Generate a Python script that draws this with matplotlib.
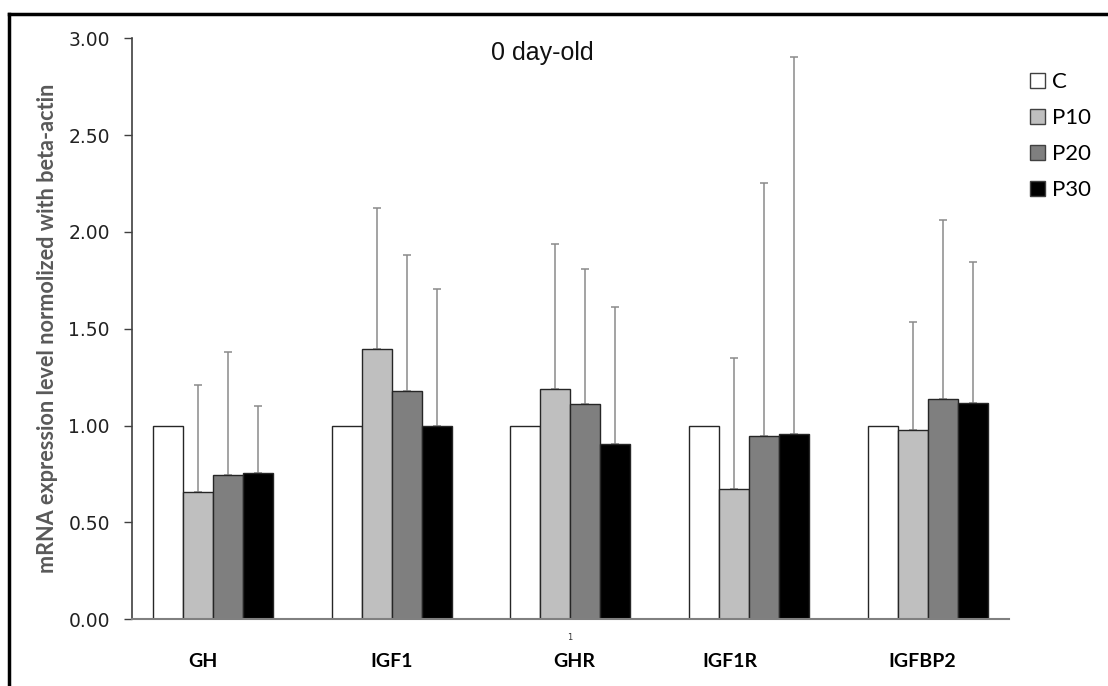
import matplotlib
matplotlib.use("Agg")
import matplotlib.pyplot as plt
import numpy as np
from matplotlib.patches import Patch
from matplotlib.lines import Line2D

# ---- data ----
genes = ["GH", "IGF1", "GHR", "IGF1R", "IGFBP2"]
series = ["C", "P10", "P20", "P30"]
C_vals   = [1.00, 1.00, 1.00, 1.00, 1.00]
P10_vals = [0.657, 1.397, 1.190, 0.671, 0.976]
P20_vals = [0.746, 1.181, 1.110, 0.945, 1.138]
P30_vals = [0.757, 1.000, 0.907, 0.957, 1.115]
# upper end of error bars (mean + SD)
P10_top = [1.212, 2.126, 1.936, 1.351, 1.533]
P20_top = [1.381, 1.879, 1.807, 2.253, 2.062]
P30_top = [1.100, 1.707, 1.612, 2.906, 1.847]
yticks = [0.0, 0.5, 1.0, 1.5, 2.0, 2.5, 3.0]

# ---- styling ----
fills = ["#ffffff", "#bfbfbf", "#7f7f7f", "#000000"]
label_offsets = [-0.06, -0.001, 0.02, -0.107, -0.03]  # position tweaks of category labels

W, H = 1108, 686
fig = plt.figure(figsize=(W / 100, H / 100), dpi=100)
ax = fig.add_axes([132 / W, 1 - 619.3 / H, (1009.3 - 132) / W, (619.3 - 38.3) / H])

x = np.arange(len(genes))
bw = 0.168
vals = [C_vals, P10_vals, P20_vals, P30_vals]
tops = [None, P10_top, P20_top, P30_top]
for i, (v, col) in enumerate(zip(vals, fills)):
    xs = x + (i - 1.5) * bw
    ax.bar(xs, v, width=bw, color=col, edgecolor="#262626", linewidth=1.0,
           label=series[i], zorder=2)
    if tops[i] is not None:
        err = np.array(tops[i]) - np.array(v)
        ax.errorbar(xs, v, yerr=[np.zeros_like(err), err], fmt="none",
                    ecolor="#8a8a8a", elinewidth=1.1, capsize=3, capthick=1.1,
                    zorder=1)

ax.set_xlim(-0.455, 4.457)
ax.set_ylim(0, 3.0)
ax.set_yticks(yticks)
ax.set_yticklabels([f"{t:.2f}" for t in yticks], fontfamily="DejaVu Sans",
                   fontsize=13.5, color="#222222")
ax.tick_params(axis="y", direction="out", length=6, width=1, color="#404040", pad=10)
ax.set_xticks(x + np.array(label_offsets))
ax.set_xticklabels(genes, fontfamily="Lato", fontweight="bold", fontsize=14)
ax.tick_params(axis="x", length=0, pad=24)

for s in ["top", "right"]:
    ax.spines[s].set_visible(False)
ax.spines["left"].set_color("#404040")
ax.spines["left"].set_linewidth(1.2)
ax.spines["bottom"].set_color("#808080")
ax.spines["bottom"].set_linewidth(1.5)

ylab = fig.text(48 / W, 1 - 328 / H, "mRNA expression level normolized with beta-actin",
                rotation=90, ha="center", va="center", fontfamily="Lato",
                fontweight="bold", fontsize=13.5, color="#595959")
# fit the label length to the reference span (about 489 px)
renderer = fig.canvas.get_renderer()
bb = ylab.get_window_extent(renderer=renderer)
ylab.set_fontsize(13.5 * 489.0 / bb.height)

fig.text(542.5 / W, 1 - 53 / H, "0 day-old", ha="center", va="center",
         fontfamily="Liberation Sans", fontsize=18, color="#111111")

fig.text(570 / W, 1 - 637 / H, "1", ha="center", va="center", fontsize=6,
         color="#333333")

handles = [Patch(facecolor=c, edgecolor="#404040", linewidth=1.0) for c in fills]
leg = fig.legend(handles, series, loc="upper left",
                 bbox_to_anchor=(1030 / W, 1 - 72 / H), bbox_transform=fig.transFigure,
                 frameon=False, borderpad=0, borderaxespad=0,
                 handlelength=0.68, handleheight=0.68, handletextpad=0.33,
                 labelspacing=0.72, prop={"family": "Lato", "size": 16})

# outer frame (top and left edges visible)
fig.add_artist(Line2D([9 / W, 1.01], [1 - 14 / H, 1 - 14 / H], color="black",
                      linewidth=2.5, transform=fig.transFigure))
fig.add_artist(Line2D([9 / W, 9 / W], [1 - 14 / H, -0.01], color="black",
                      linewidth=2.5, transform=fig.transFigure))

fig.savefig("out.png", dpi=100)
